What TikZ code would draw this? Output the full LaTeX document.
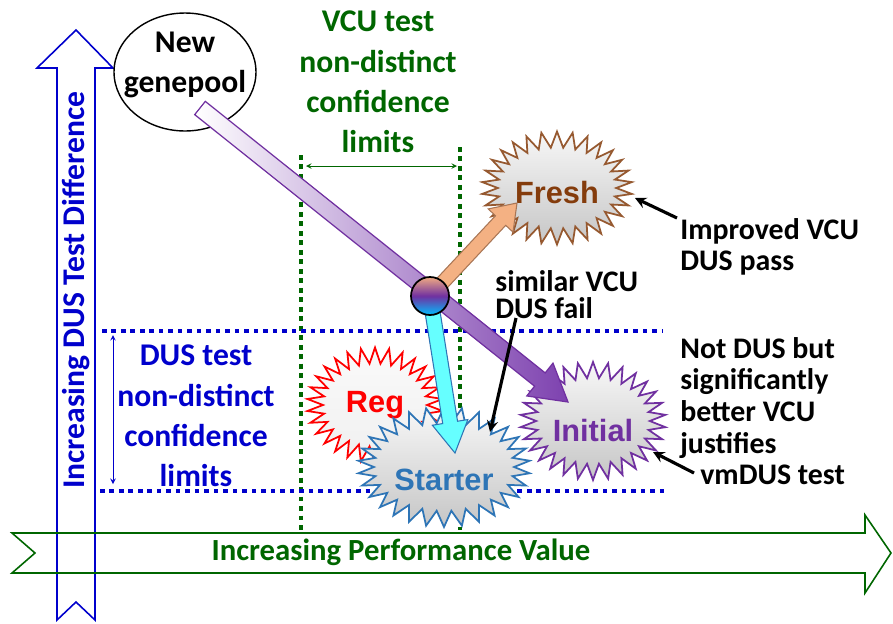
\documentclass[tikz,border=0pt]{standalone}
\usepackage{fontspec}
\setmainfont{Carlito}
\newfontfamily\arialfont{Liberation Sans}
\usetikzlibrary{shapes.geometric,shapes.symbols,calc}

\definecolor{vcugreen}{RGB}{0,102,0}
\definecolor{dusblue}{RGB}{0,0,204}
\definecolor{freshbrown}{RGB}{132,60,12}
\definecolor{starterblue}{RGB}{46,117,182}
\definecolor{initpurple}{RGB}{112,48,160}

% block arrow: [style]{from}{to}{half shaft}{half head}{head length}
\newcommand\fatarrow[6][]{%
  \coordinate (fa-h) at ($(#3)!#6!(#2)$);
  \path[#1] ($(#2)!#4!90:(#3)$) -- ($(fa-h)!#4!90:(#3)$) -- ($(fa-h)!#5!90:(#3)$)
    -- (#3) -- ($(fa-h)!#5!-90:(#3)$) -- ($(fa-h)!#4!-90:(#3)$)
    -- ($(#2)!#4!-90:(#3)$) -- cycle;
}

\begin{document}
\begin{tikzpicture}[>=stealth, x=0.02cm, y=-0.02cm,
    note/.style={font=\fontsize{18}{23}\selectfont\bfseries, align=center},
    remark/.style={font=\fontsize{17}{18}\selectfont\bfseries, align=left, anchor=west, inner sep=0pt},
    burst/.style={starburst, starburst points=30, starburst point height=0.32cm,
      random starburst=0, line width=1pt, top color=gray!6, bottom color=gray!45,
      font=\arialfont\fontsize{17.5}{20}\selectfont\bfseries, inner sep=0pt},
    greendots/.style={vcugreen, line width=2.3pt, dash pattern=on 2.8pt off 2.6pt},
    bluedots/.style={dusblue, line width=2.3pt, dash pattern=on 2.6pt off 2.8pt},
    pointer/.style={->, line width=1.8pt}]
  \useasboundingbox (0,0) rectangle (893,623);

  % axes
  \draw[dusblue, line width=0.9pt] (57,620) -- (57,68) -- (37,68) -- (76,30) -- (113,68)
    -- (95,68) -- (95,620) -- (76,602) -- cycle;
  \draw[vcugreen, line width=0.9pt] (12,533) -- (865,533) -- (865,515) -- (891,553)
    -- (865,593) -- (865,573) -- (12,573) -- (35,553) -- cycle;
  \node[note, dusblue, rotate=90] (yaxis) at (76,290) {Increasing DUS Test Difference};
  \node[note, vcugreen, font=\fontsize{17.5}{20}\selectfont\bfseries] (xaxis) at (401,552)
    {Increasing Performance Value};

  % confidence limits
  \coordinate (vcuL) at (301,155);
  \coordinate (vcuR) at (460,147);
  \draw[greendots] (vcuL) -- (301,530);
  \draw[greendots] (vcuR) -- (460,530);
  \coordinate (vcuLa) at (306,166);
  \coordinate (vcuRa) at (457,166);
  \draw[<->, vcugreen, thin] (vcuLa) -- (vcuRa);
  \node[note, vcugreen] (vcutext) at (378,82) {VCU test\\non-distinct\\confidence\\limits};

  \coordinate (dusT) at (102,331);
  \coordinate (dusB) at (100,491);
  \draw[bluedots] (dusT) -- (662,331);
  \draw[bluedots] (dusB) -- (665,491);
  \coordinate (dusTa) at (113,335);
  \coordinate (dusBa) at (113,484);
  \draw[<->, dusblue, thin] (dusTa) -- (dusBa);
  \node[note, dusblue] (dustext) at (196,416) {DUS test\\non-distinct\\confidence\\limits};

  % varieties
  \node[draw, thick, ellipse, minimum width=2.84cm, minimum height=2.36cm] (genepool) at (185,72) {};
  \node[note] (genepooltext) at (185,65) {New\\genepool};
  \node[burst, draw=red, text=red, top color=gray!4, bottom color=gray!12,
    minimum width=2.72cm, minimum height=2.3cm] (reg) at (375,405) {Reg};
  \node[burst, draw=starterblue, text=starterblue,
    minimum width=3.16cm, minimum height=2.4cm] (starter) at (444,467) {\raisebox{-0.65ex}[1.6ex][0pt]{Starter}};
  \node[burst, draw=initpurple, text=initpurple,
    minimum width=2.8cm, minimum height=2.36cm] (initial) at (593,421) {\raisebox{-0.45ex}[1.6ex][0pt]{Initial}};
  \node[burst, draw=freshbrown!85, text=freshbrown,
    minimum width=2.9cm, minimum height=2.26cm] (fresh) at (557,188) {\raisebox{-0.15ex}[1.6ex][0pt]{Fresh}};

  % paths out of the hub
  \node[circle, minimum size=0.76cm] (hub) at (430,296) {};
  \coordinate (gpfoot) at (200,108);
  \coordinate (initialtip) at (568,402);
  \coordinate (freshtip) at (517,203);
  \coordinate (startertip) at (455,453);
  \fatarrow[draw=initpurple, line width=0.7pt, left color=white,
    right color={rgb,255:red,125;green,65;blue,175}]{gpfoot}{initialtip}{0.17cm}{0.42cm}{0.72cm}
  \fatarrow[draw=freshbrown!70, line width=0.6pt, fill={rgb,255:red,244;green,177;blue,131}]
    {hub.center}{freshtip}{0.14cm}{0.34cm}{0.48cm}
  \fatarrow[draw=starterblue, line width=0.6pt, fill={rgb,255:red,102;green,255;blue,255}]
    {hub.center}{startertip}{0.15cm}{0.36cm}{0.62cm}
  \node[circle, draw, line width=1pt, minimum size=0.76cm, inner sep=0pt,
    top color={rgb,255:red,240;green,170;blue,130}, bottom color={rgb,255:red,0;green,190;blue,255},
    middle color=initpurple] at (hub) {};

  % remarks
  \node[remark] (improved) at (680,247) {Improved VCU\\DUS pass};
  \node[remark, font=\fontsize{17}{15.5}\selectfont\bfseries] (similar) at (495,295) {similar VCU\\DUS fail};
  \node[remark] (notdus) at (680,411) {Not DUS but\\significantly\\better VCU\\justifies\\\hspace*{0.4cm}vmDUS test};
  \coordinate (freshpt) at (635,198);
  \coordinate (starterpt) at (490,432);
  \coordinate (initialpt) at (653,452);
  \coordinate (improvedpt) at (677,218);
  \coordinate (similarpt) at (516,318);
  \coordinate (notduspt) at (694,473);
  \draw[pointer] (improvedpt) -- (freshpt);
  \draw[pointer] (similarpt) -- (starterpt);
  \draw[pointer] (notduspt) -- (initialpt);
\end{tikzpicture}
\end{document}
